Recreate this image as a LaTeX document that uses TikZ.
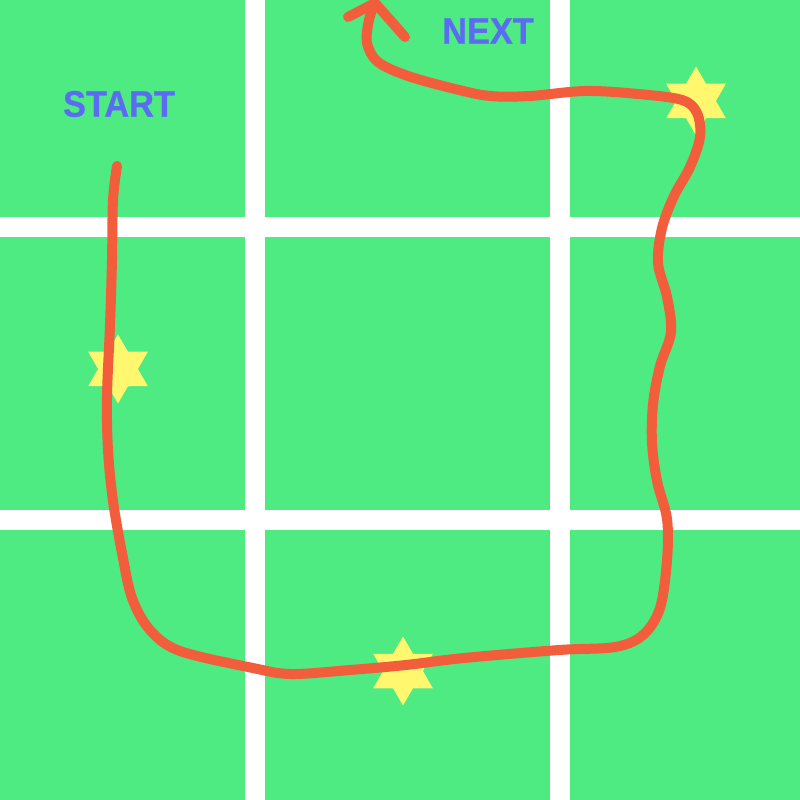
\documentclass[tikz,border=0pt]{standalone}
\usepackage{fontspec}
\newfontfamily\tagfont{Liberation Sans}[FakeStretch=0.93, FakeBold=0.6]
\usepackage{tikz}
\usetikzlibrary{shapes.geometric}
\definecolor{fieldgreen}{RGB}{78,234,130}
\definecolor{pathred}{RGB}{242,94,60}
\definecolor{tagblue}{RGB}{92,108,242}
\definecolor{staryellow}{RGB}{255,248,110}

\begin{document}
\begin{tikzpicture}[x=0.1mm, y=-0.1mm,
        cell/.style={fill=fieldgreen},
        tag/.style={text=tagblue, font=\tagfont\bfseries\fontsize{10.5}{12}\selectfont, inner sep=0pt},
        hexstar/.style={star, star points=6, star point ratio=1.732, fill=staryellow,
                        minimum size=6.9mm, inner sep=0pt},
        route/.style={draw=pathred, line width=1mm, line cap=round, line join=round}
    ]
            \useasboundingbox (0, 0) rectangle (800, 800);
            \fill[white] (0, 0) rectangle (800, 800);
            \foreach \xa/\xb in {0/245, 265/550, 570/800}
                \foreach \ya/\yb in {0/217, 237/510, 530/800}
                    \fill[cell] (\xa, \ya) rectangle (\xb, \yb);
            \node[tag] (start) at (119, 104) {START};
            \node[tag] (next) at (488, 31) {NEXT};
            \node[hexstar] (star1) at (118, 369) {};
            \node[hexstar] (star2) at (403, 671) {};
            \node[hexstar] (star3) at (696, 101) {};
            \coordinate (go) at (117, 166);
            \coordinate (tip) at (375, 3);
            \coordinate (barbl) at (348, 17);
            \coordinate (barbr) at (405, 37);
            \draw[route]
                plot[smooth, tension=0.55] coordinates {(go) (113, 200) (112, 260) (110, 325)
                (107, 396) (108, 450) (113, 501) (122, 553) (132, 598) (150, 630) (180, 651)
                (253, 668) (291, 674) (350, 670) (406, 665) (464, 658) (559, 650) (615, 647)
                (643, 635) (660, 608) (667, 560) (667, 519) (657, 481) (652, 443) (653, 404)
                (660, 366) (671, 332) (667, 297) (658, 263) (662, 228) (674, 196) (690, 167)
                (700, 137) (697, 113) (682, 100) (638, 94) (585, 91) (530, 96) (490, 96)
                (455, 89) (408, 76) (378, 62) (367, 43) (369, 20) (tip)};
            \draw[route] (barbl) -- (tip) -- (barbr);
        \end{tikzpicture}
\end{document}
